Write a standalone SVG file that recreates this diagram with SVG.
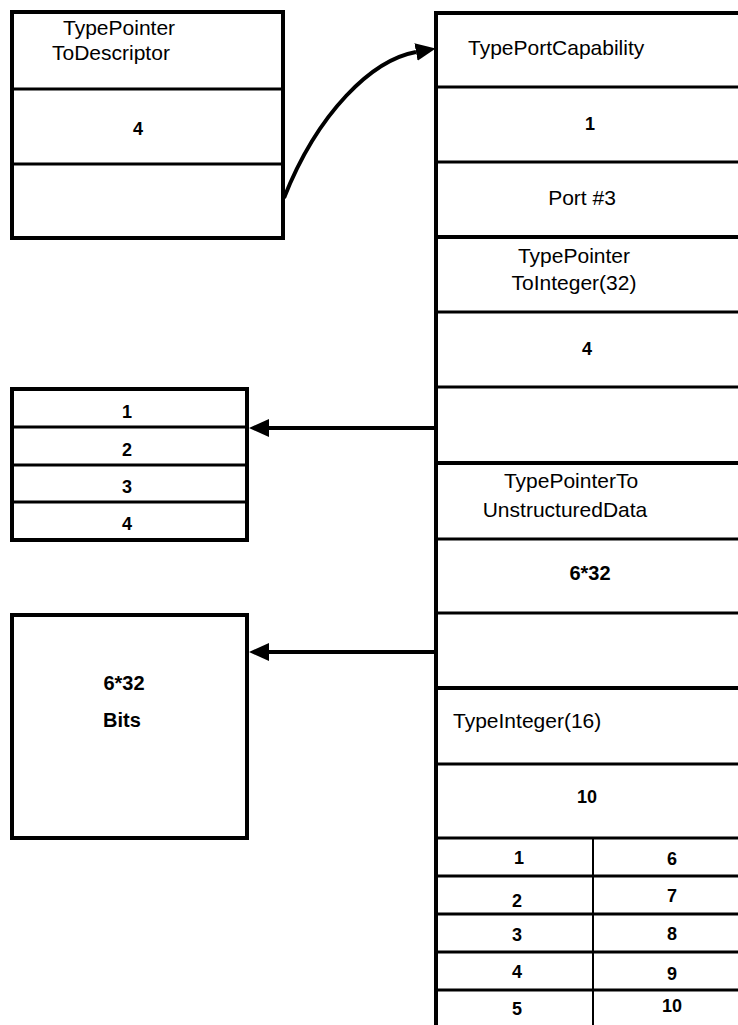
<svg xmlns="http://www.w3.org/2000/svg" width="738" height="1025" viewBox="0 0 738 1025">
<style>
.box{fill:none;stroke:#000;stroke-width:4}
.div{stroke:#000;stroke-width:3}
.thin{stroke:#000;stroke-width:2}
.lbl{font-family:"Liberation Sans",Arial,sans-serif;font-size:21px;fill:#000}
.num{font-family:"Liberation Sans",Arial,sans-serif;font-size:18px;font-weight:bold;fill:#000;text-anchor:middle}
.big{font-family:"Liberation Sans",Arial,sans-serif;font-size:20px;font-weight:bold;fill:#000;text-anchor:middle}
.c{text-anchor:middle}
.conn{fill:none;stroke:#000;stroke-width:4}
</style>
<defs>
<marker id="ah" markerUnits="userSpaceOnUse" markerWidth="20" markerHeight="18" viewBox="0 0 20 18" refX="0" refY="9" orient="auto">
<path d="M0,0 L20,9 L0,18 z" fill="#000"/>
</marker>
</defs>
<rect width="738" height="1025" fill="#fff"/>

<g id="descriptor">
<rect class="box" x="12" y="12" width="271" height="226"/>
<line class="div" x1="12" y1="89" x2="283" y2="89"/>
<line class="div" x1="12" y1="164" x2="283" y2="164"/>
<text class="lbl" x="63" y="35">TypePointer</text>
<text class="lbl" x="52" y="60">ToDescriptor</text>
<text class="num" x="138" y="135">4</text>
</g>

<g id="intarray">
<rect class="box" x="12" y="389" width="235" height="151"/>
<line class="div" x1="12" y1="427" x2="247" y2="427"/>
<line class="div" x1="12" y1="465" x2="247" y2="465"/>
<line class="div" x1="12" y1="502" x2="247" y2="502"/>
<text class="num" x="127" y="418">1</text>
<text class="num" x="127" y="456">2</text>
<text class="num" x="127" y="493">3</text>
<text class="num" x="127" y="530">4</text>
</g>

<g id="bits">
<rect class="box" x="12" y="615" width="235" height="223"/>
<text class="big" x="124" y="690">6*32</text>
<text class="big" x="122" y="727">Bits</text>
</g>

<g id="portcap">
<line class="box" x1="436" y1="13" x2="738" y2="13"/>
<line class="box" x1="436" y1="11" x2="436" y2="1025"/>
<line class="div" x1="436" y1="87" x2="738" y2="87"/>
<line class="div" x1="436" y1="162" x2="738" y2="162"/>
<line class="box" x1="436" y1="237" x2="738" y2="237"/>
<text class="lbl" x="468" y="55">TypePortCapability</text>
<text class="num" x="590" y="130">1</text>
<text class="lbl c" x="582" y="205">Port #3</text>
</g>

<g id="ptrint">
<line class="div" x1="436" y1="312" x2="738" y2="312"/>
<line class="div" x1="436" y1="387" x2="738" y2="387"/>
<line class="box" x1="436" y1="463" x2="738" y2="463"/>
<text class="lbl c" x="574" y="263">TypePointer</text>
<text class="lbl c" x="574" y="290">ToInteger(32)</text>
<text class="num" x="587" y="355">4</text>
</g>

<g id="ptrdata">
<line class="div" x1="436" y1="539" x2="738" y2="539"/>
<line class="div" x1="436" y1="613" x2="738" y2="613"/>
<line class="box" x1="436" y1="688" x2="738" y2="688"/>
<text class="lbl c" x="571" y="488">TypePointerTo</text>
<text class="lbl c" x="565" y="517">UnstructuredData</text>
<text class="big" x="590" y="580">6*32</text>
</g>

<g id="int16">
<line class="div" x1="436" y1="764" x2="738" y2="764"/>
<line class="div" x1="436" y1="838" x2="738" y2="838"/>
<line class="div" x1="436" y1="876" x2="738" y2="876"/>
<line class="div" x1="436" y1="914" x2="738" y2="914"/>
<line class="div" x1="436" y1="952" x2="738" y2="952"/>
<line class="div" x1="436" y1="990" x2="738" y2="990"/>
<line class="thin" x1="593" y1="838" x2="593" y2="1025"/>
<text class="lbl" x="453" y="728">TypeInteger(16)</text>
<text class="num" x="587" y="803">10</text>
<text class="num" x="519" y="864">1</text>
<text class="num" x="517" y="907">2</text>
<text class="num" x="517" y="941">3</text>
<text class="num" x="517" y="978">4</text>
<text class="num" x="517" y="1015">5</text>
<text class="num" x="672" y="865">6</text>
<text class="num" x="672" y="902">7</text>
<text class="num" x="672" y="940">8</text>
<text class="num" x="672" y="980">9</text>
<text class="num" x="672" y="1012">10</text>
</g>

<g id="connectors">
<path class="conn" d="M284,198 C318,112 372,60 416,52" marker-end="url(#ah)"/>
<path class="conn" d="M436,428 L269,428" marker-end="url(#ah)"/>
<path class="conn" d="M436,652 L269,652" marker-end="url(#ah)"/>
</g>
</svg>
